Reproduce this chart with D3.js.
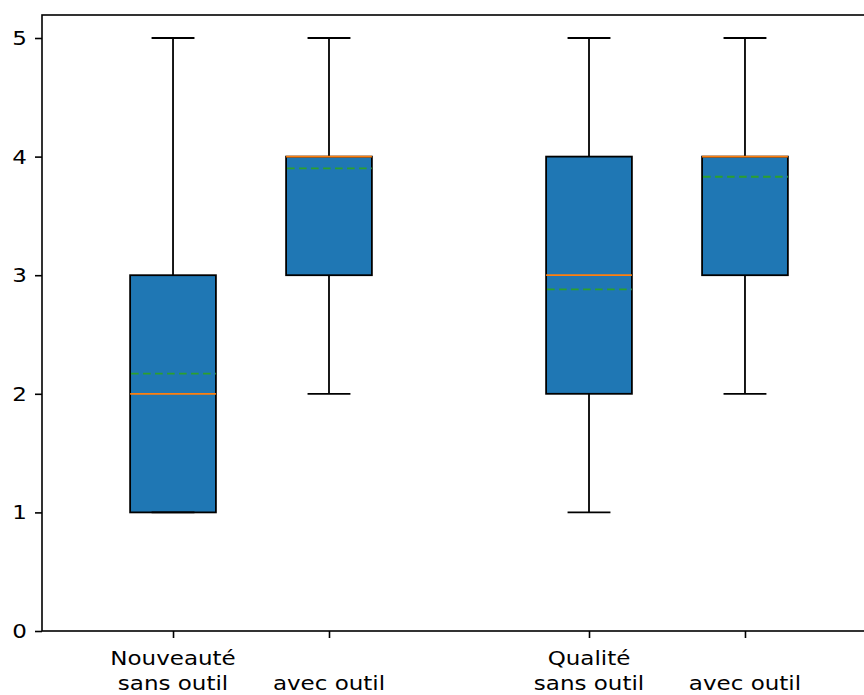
<!DOCTYPE html>
<html>
<head>
<meta charset="utf-8">
<script src="https://cdn.jsdelivr.net/npm/d3@7"></script>
<style>
  body { margin: 0; background: #fff; }
  svg { display: block; }
</style>
</head>
<body>
<svg id="chart" width="864" height="695"></svg>
<script>
'use strict';

// one entry per box
var groups = ['Nouveauté', '', 'Qualité', ''];
var tools = ['sans outil', 'avec outil', 'sans outil', 'avec outil'];
var positions = [1, 2, 3.667, 4.667];
var whiskerLow = [1, 2, 1, 2];
var q1 = [1, 3, 2, 3];
var medians = [2, 4, 3, 4];
var q3 = [3, 4, 4, 4];
var whiskerHigh = [5, 5, 5, 5];
var means = [2.17, 3.9, 2.88, 3.83];
var yTicks = [0, 1, 2, 3, 4, 5];

var boxes = positions.map(function(p, i) {
  return {
    pos: p, group: groups[i], tool: tools[i],
    lo: whiskerLow[i], q1: q1[i], med: medians[i], q3: q3[i], hi: whiskerHigh[i], mean: means[i]
  };
});

var plotLeft = 42, plotRight = 876, plotTop = 15, plotBottom = 631;
var boxWidth = 0.55, capWidth = 0.275;
var stretch = 1.15; // text in the picture is a bit wider than plain DejaVu

var svg = d3.select('#chart');

var x = d3.scaleLinear().domain([0.16, 5.507]).range([plotLeft, plotRight]);
var y = d3.scaleLinear().domain([0, 5.194]).range([plotBottom, plotTop]);

var g = svg.append('g');

// whiskers
g.selectAll('.whisker-lo').data(boxes).enter().append('line')
  .attr('x1', d => x(d.pos)).attr('x2', d => x(d.pos))
  .attr('y1', d => y(d.lo)).attr('y2', d => y(d.q1))
  .attr('stroke', '#000').attr('stroke-width', 1.8);
g.selectAll('.whisker-hi').data(boxes).enter().append('line')
  .attr('x1', d => x(d.pos)).attr('x2', d => x(d.pos))
  .attr('y1', d => y(d.q3)).attr('y2', d => y(d.hi))
  .attr('stroke', '#000').attr('stroke-width', 1.8);

// boxes
g.selectAll('.box').data(boxes).enter().append('rect')
  .attr('x', d => x(d.pos - boxWidth / 2))
  .attr('width', d => x(d.pos + boxWidth / 2) - x(d.pos - boxWidth / 2))
  .attr('y', d => y(d.q3))
  .attr('height', d => y(d.q1) - y(d.q3))
  .attr('fill', '#1f77b4')
  .attr('stroke', '#000')
  .attr('stroke-width', 1.8);

// caps
['lo', 'hi'].forEach(function(k) {
  g.selectAll('.cap-' + k).data(boxes).enter().append('line')
    .attr('x1', d => x(d.pos - capWidth / 2)).attr('x2', d => x(d.pos + capWidth / 2))
    .attr('y1', d => y(d[k])).attr('y2', d => y(d[k]))
    .attr('stroke', '#000').attr('stroke-width', 1.8);
});

// medians
g.selectAll('.median').data(boxes).enter().append('line')
  .attr('x1', d => x(d.pos - boxWidth / 2)).attr('x2', d => x(d.pos + boxWidth / 2))
  .attr('y1', d => y(d.med)).attr('y2', d => y(d.med))
  .attr('stroke', '#ff7f0e').attr('stroke-width', 1.8);

// means
g.selectAll('.mean').data(boxes).enter().append('line')
  .attr('x1', d => x(d.pos - boxWidth / 2) + 1).attr('x2', d => x(d.pos + boxWidth / 2))
  .attr('y1', d => y(d.mean)).attr('y2', d => y(d.mean))
  .attr('stroke', '#2ca02c').attr('stroke-width', 1.8)
  .attr('stroke-dasharray', '7.5,4.5');

// spines
svg.append('rect')
  .attr('x', plotLeft).attr('y', plotTop)
  .attr('width', plotRight - plotLeft).attr('height', plotBottom - plotTop)
  .attr('fill', 'none').attr('stroke', '#000').attr('stroke-width', 1.6);

// y axis
var yAxis = svg.append('g')
  .attr('transform', 'translate(' + plotLeft + ',0)')
  .call(d3.axisLeft(y).tickValues(yTicks).tickFormat(d3.format('d')).tickSize(7).tickPadding(8));
yAxis.select('.domain').remove();
yAxis.selectAll('line').attr('stroke-width', 1.6);
yAxis.selectAll('text')
  .attr('font-family', 'DejaVu Sans').attr('font-size', 20).attr('fill', '#000')
  .attr('transform', 'translate(-15,0)scale(' + stretch + ',1)translate(15,0)');

// x axis
var xAxis = svg.append('g')
  .attr('transform', 'translate(0,' + plotBottom + ')')
  .call(d3.axisBottom(x).tickValues(positions).tickFormat('').tickSize(7));
xAxis.select('.domain').remove();
xAxis.selectAll('line').attr('stroke-width', 1.6);

var labels = svg.selectAll('.xlabel').data(boxes).enter().append('text')
  .attr('class', 'xlabel')
  .attr('text-anchor', 'middle')
  .attr('font-family', 'DejaVu Sans')
  .attr('font-size', 20)
  .attr('fill', '#000')
  .attr('transform', d => 'translate(' + x(d.pos) + ',0)scale(' + stretch + ',1)');
labels.each(function(d) {
  var t = d3.select(this);
  var lines = d.group ? [d.group, d.tool] : [d.tool];
  var base = 690 - (lines.length - 1) * 25;
  lines.forEach(function(s, i) {
    t.append('tspan').attr('x', 0).attr('y', base + i * 25).text(s);
  });
});
</script>
</body>
</html>
